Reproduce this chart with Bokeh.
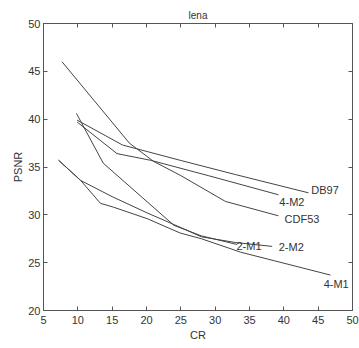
import math
from bokeh.plotting import figure
from bokeh.models import LinearAxis, Label, FixedTicker, Range1d
from bokeh.embed import file_html
from bokeh.resources import INLINE

# ---- data ----
cdf53_cr = [7.7, 17.5, 21.0, 25.0, 31.5, 39.2]
cdf53_psnr = [46.0, 37.5, 35.6, 34.1, 31.4, 29.9]

db97_cr = [9.9, 16.5, 24.9, 33.0, 43.6]
db97_psnr = [39.9, 37.3, 35.7, 34.2, 32.3]

m42_cr = [9.9, 15.7, 20.6, 29.0, 39.2]
m42_psnr = [39.7, 36.4, 35.7, 34.1, 32.1]

m21_cr = [9.8, 13.7, 24.0, 28.0, 33.2]
m21_psnr = [40.6, 35.4, 28.9, 27.8, 26.9]

m22_cr = [7.2, 10.4, 15.0, 20.1, 24.9, 28.0, 33.0, 38.3]
m22_psnr = [35.7, 33.6, 31.9, 30.2, 28.7, 27.7, 27.1, 26.7]

m41_cr = [7.2, 10.4, 13.3, 15.2, 20.1, 24.9, 28.0, 33.7, 46.8]
m41_psnr = [35.7, 33.6, 31.2, 30.8, 29.6, 28.1, 27.5, 26.1, 23.7]

series_names = ["DB97", "4-M2", "CDF53", "2-M1", "2-M2", "4-M1"]
label_cr = [44.0, 39.35, 40.1, 33.1, 39.25, 45.8]
label_psnr = [32.55, 31.33, 29.6, 26.7, 26.6, 22.8]

x_ticks = [5, 10, 15, 20, 25, 30, 35, 40, 45, 50]
y_ticks = [20, 25, 30, 35, 40, 45, 50]

FONT = "Liberation Sans"
TXT = "#333333"
AX = "#555555"

p = figure(width=359, height=348, output_backend="svg", toolbar_location=None,
           x_range=Range1d(5, 50), y_range=Range1d(20, 50),
           min_border_left=43, min_border_right=7, min_border_top=23, min_border_bottom=38,
           x_axis_location=None, y_axis_location=None, title="lena")
p.xgrid.visible = False
p.ygrid.visible = False
p.outline_line_color = AX
p.outline_line_width = 1
p.background_fill_color = "white"
p.border_fill_color = "white"
p.title.align = "center"
p.title.text_font = FONT
p.title.text_font_size = "10px"
p.title.text_font_style = "normal"
p.title.text_color = TXT
p.title.standoff = 5

def style_axis(ax, show_labels):
    ax.axis_line_color = AX
    ax.major_tick_line_color = AX
    ax.major_tick_in = 4
    ax.major_tick_out = 0
    ax.minor_tick_line_color = None
    if show_labels:
        ax.major_label_text_font = FONT
        ax.major_label_text_font_size = "11px"
        ax.major_label_text_color = TXT
        ax.major_label_standoff = 5
        ax.axis_label_text_font = FONT
        ax.axis_label_text_font_size = "11px"
        ax.axis_label_text_font_style = "normal"
        ax.axis_label_text_color = TXT
        ax.axis_label_standoff = 2
    else:
        ax.major_label_text_font_size = "0px"
        ax.major_label_text_color = None
        ax.major_label_standoff = 0

xb = LinearAxis(ticker=FixedTicker(ticks=x_ticks), axis_label="CR")
style_axis(xb, True)
p.add_layout(xb, "below")
yl = LinearAxis(ticker=FixedTicker(ticks=y_ticks), axis_label="PSNR")
style_axis(yl, True)
yl.major_label_standoff = 3
yl.axis_label_standoff = 1
p.add_layout(yl, "left")
xt = LinearAxis(ticker=FixedTicker(ticks=x_ticks))
style_axis(xt, False)
p.add_layout(xt, "above")
yr = LinearAxis(ticker=FixedTicker(ticks=y_ticks))
style_axis(yr, False)
p.add_layout(yr, "right")

LINE = "#444444"
for xs, ys in [(db97_cr, db97_psnr), (m42_cr, m42_psnr), (cdf53_cr, cdf53_psnr),
               (m21_cr, m21_psnr), (m22_cr, m22_psnr), (m41_cr, m41_psnr)]:
    p.line(xs, ys, line_color=LINE, line_width=1)

for name, lx, ly in zip(series_names, label_cr, label_psnr):
    p.add_layout(Label(x=lx, y=ly, text=name, text_font=FONT, text_font_size="11px",
                       text_color=TXT, text_align="left", text_baseline="middle"))

open("out.html", "w").write(file_html(p, INLINE))
